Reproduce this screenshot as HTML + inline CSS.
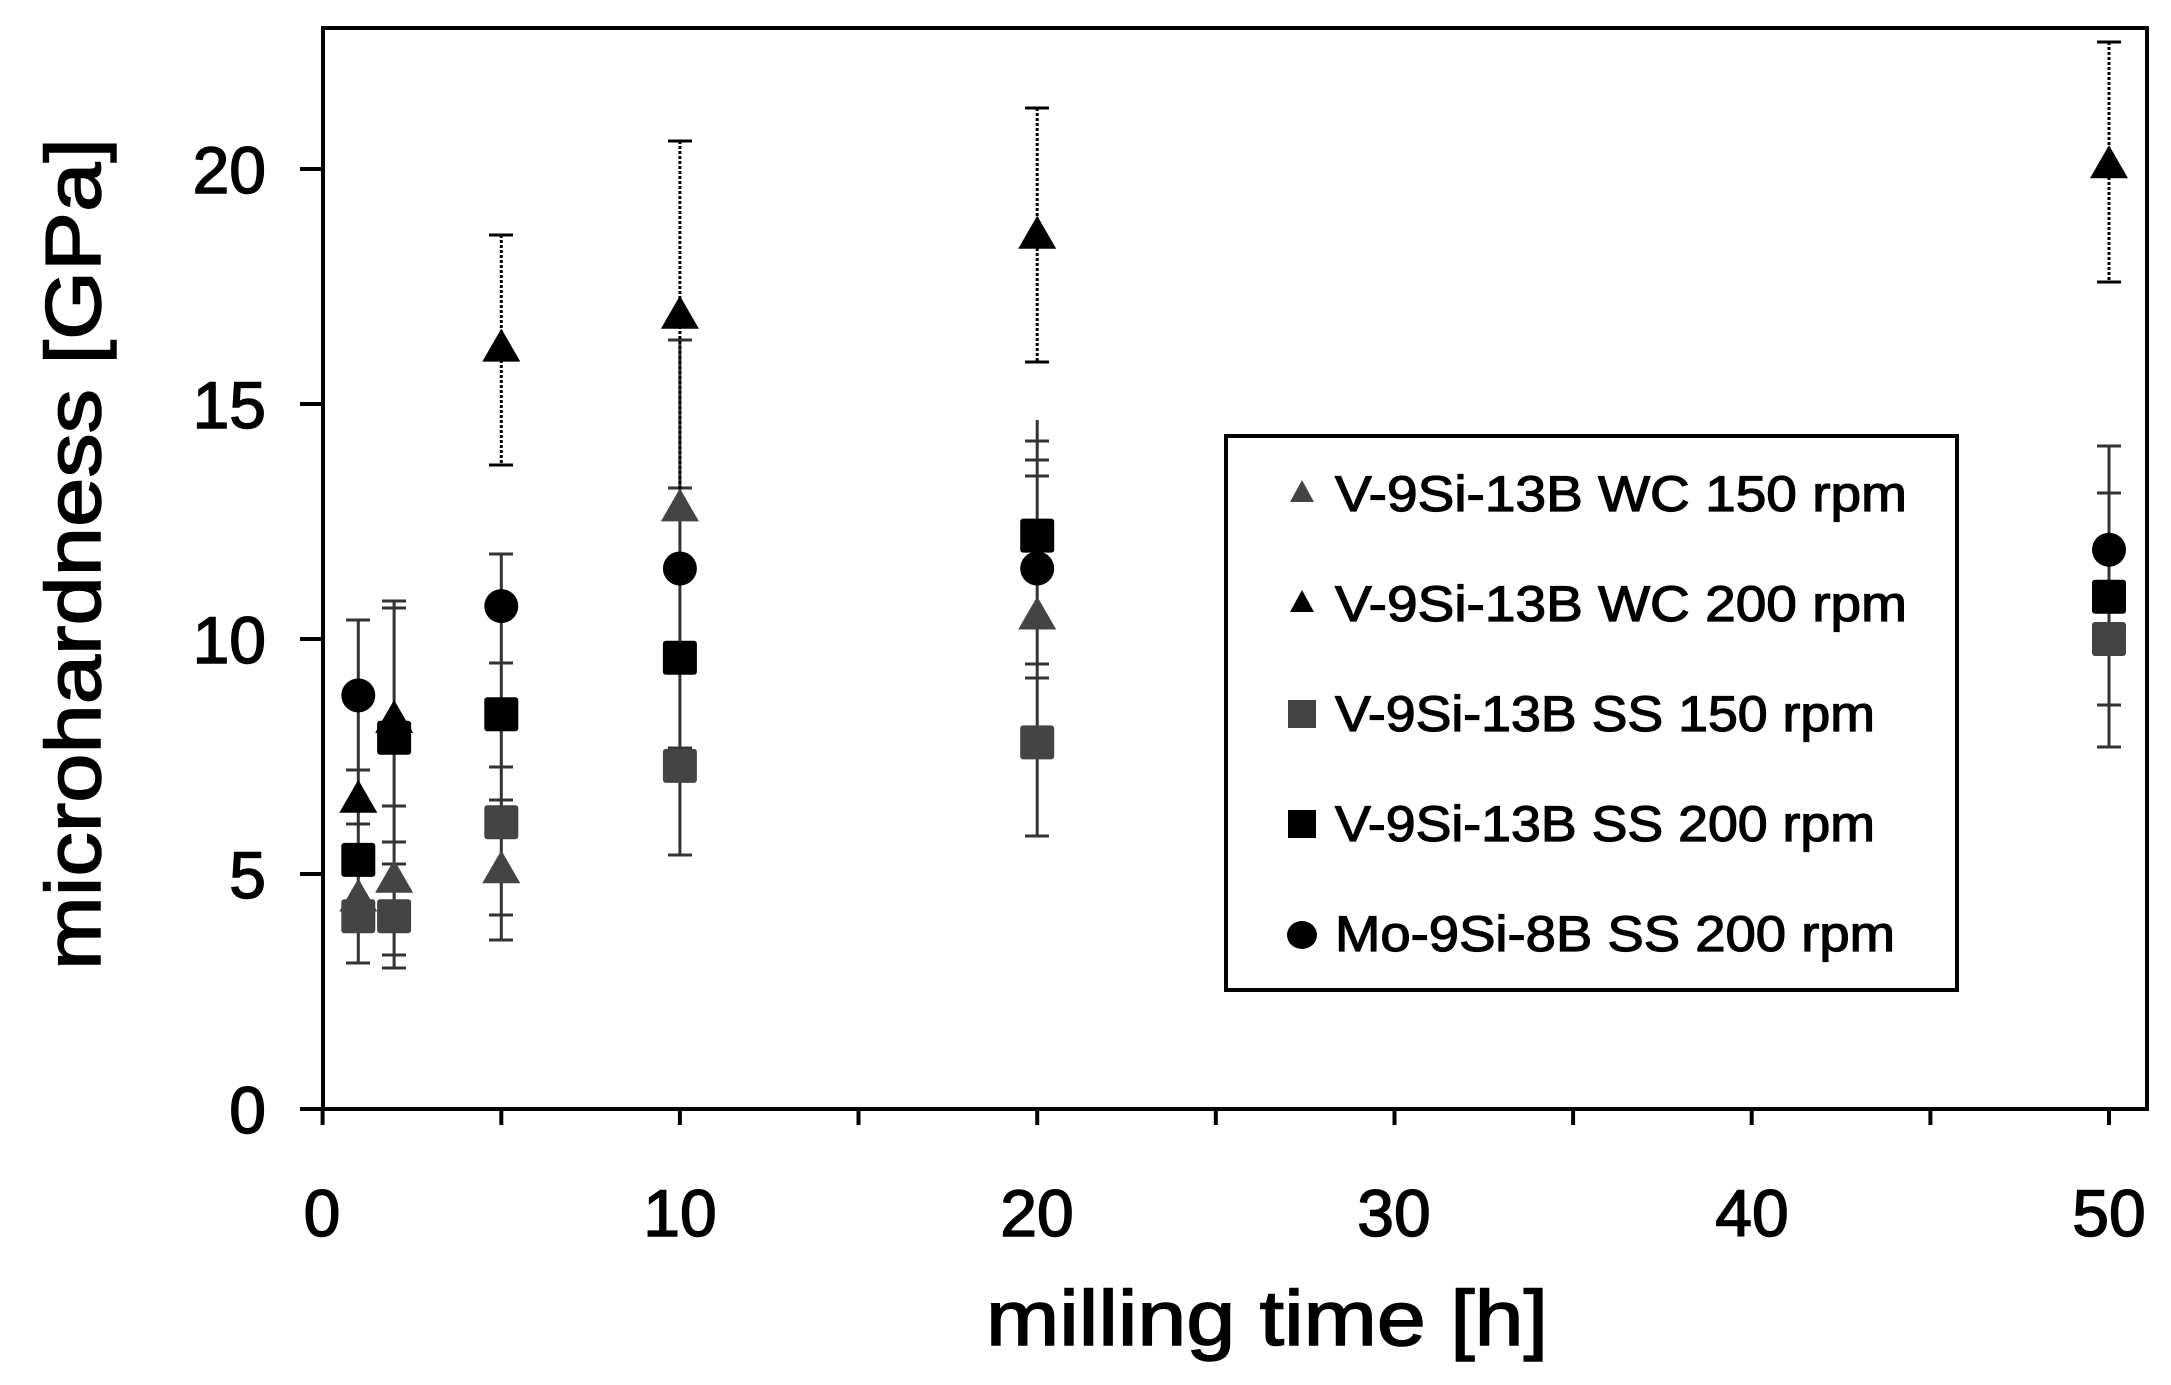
<!DOCTYPE html>
<html><head><meta charset="utf-8"><style>html,body{margin:0;padding:0;background:#fff}svg{display:block}</style></head>
<body>
<svg width="2171" height="1385" viewBox="0 0 2171 1385" xmlns="http://www.w3.org/2000/svg" font-family="Liberation Sans, DejaVu Sans, sans-serif">
<defs>
<path id="tri" d="M0,-19 L19,14 L-19,14 Z"/>
<rect id="sq" x="-17" y="-17" width="34" height="34" rx="3"/>
<circle id="ci" r="17"/>
</defs>
<rect x="323" y="28" width="1824" height="1081" fill="none" stroke="#000" stroke-width="4"/>
<g stroke="#000" stroke-width="4">
<line x1="300" y1="1109" x2="323" y2="1109"/><line x1="300" y1="874" x2="323" y2="874"/>
<line x1="300" y1="639" x2="323" y2="639"/><line x1="300" y1="404" x2="323" y2="404"/>
<line x1="300" y1="169" x2="323" y2="169"/>
<g>
<line x1="322.6" y1="1109" x2="322.6" y2="1125"/><line x1="501.3" y1="1109" x2="501.3" y2="1125"/>
<line x1="679.9" y1="1109" x2="679.9" y2="1125"/><line x1="858.5" y1="1109" x2="858.5" y2="1125"/>
<line x1="1037.2" y1="1109" x2="1037.2" y2="1125"/><line x1="1215.8" y1="1109" x2="1215.8" y2="1125"/>
<line x1="1394.5" y1="1109" x2="1394.5" y2="1125"/><line x1="1573.1" y1="1109" x2="1573.1" y2="1125"/>
<line x1="1751.7" y1="1109" x2="1751.7" y2="1125"/><line x1="1930.4" y1="1109" x2="1930.4" y2="1125"/>
<line x1="2109" y1="1109" x2="2109" y2="1125"/>
</g></g>
<g font-size="66" text-anchor="end" fill="#000" stroke="#000" stroke-width="1.5">
<text x="266" y="1133">0</text><text x="266" y="898">5</text><text x="266" y="663">10</text>
<text x="266" y="428">15</text><text x="266" y="193">20</text>
</g>
<g font-size="66" text-anchor="middle" fill="#000" stroke="#000" stroke-width="1.5">
<text x="322" y="1236">0</text><text x="680" y="1236">10</text><text x="1037" y="1236">20</text>
<text x="1394" y="1236">30</text><text x="1752" y="1236">40</text><text x="2109" y="1236">50</text>
</g>
<text x="1267" y="1345" font-size="78" text-anchor="middle" textLength="562" lengthAdjust="spacingAndGlyphs" stroke="#000" stroke-width="1.5">milling time [h]</text>
<text transform="translate(100,554) rotate(-90)" font-size="78" text-anchor="middle" textLength="832" lengthAdjust="spacingAndGlyphs" stroke="#000" stroke-width="1.5">microhardness [GPa]</text>

<g stroke="#333" stroke-width="3">
<line x1="358.3" y1="620" x2="358.3" y2="963"/>
<line x1="346" y1="620" x2="370" y2="620"/><line x1="346" y1="770" x2="370" y2="770"/><line x1="346" y1="824" x2="370" y2="824"/><line x1="346" y1="963" x2="370" y2="963"/>
<line x1="394.1" y1="601" x2="394.1" y2="968"/>
<line x1="382" y1="601" x2="406" y2="601"/><line x1="382" y1="608" x2="406" y2="608"/><line x1="382" y1="806" x2="406" y2="806"/><line x1="382" y1="842" x2="406" y2="842"/><line x1="382" y1="864" x2="406" y2="864"/><line x1="382" y1="955" x2="406" y2="955"/><line x1="382" y1="968" x2="406" y2="968"/>
<line x1="501.3" y1="554" x2="501.3" y2="940"/>
<line x1="489" y1="554" x2="513" y2="554"/><line x1="489" y1="663" x2="513" y2="663"/><line x1="489" y1="767" x2="513" y2="767"/><line x1="489" y1="800" x2="513" y2="800"/><line x1="489" y1="915" x2="513" y2="915"/><line x1="489" y1="940" x2="513" y2="940"/>
<line x1="679.9" y1="340" x2="679.9" y2="855"/>
<line x1="668" y1="488" x2="692" y2="488"/><line x1="668" y1="340" x2="692" y2="340"/><line x1="668" y1="748" x2="692" y2="748"/><line x1="668" y1="855" x2="692" y2="855"/>
<line x1="1037.2" y1="420" x2="1037.2" y2="836"/>
<line x1="1025" y1="441" x2="1049" y2="441"/><line x1="1025" y1="460" x2="1049" y2="460"/><line x1="1025" y1="476" x2="1049" y2="476"/><line x1="1025" y1="664" x2="1049" y2="664"/><line x1="1025" y1="678" x2="1049" y2="678"/><line x1="1025" y1="836" x2="1049" y2="836"/>
<line x1="2109" y1="446" x2="2109" y2="747"/>
<line x1="2097" y1="446" x2="2121" y2="446"/><line x1="2097" y1="493" x2="2121" y2="493"/><line x1="2097" y1="705" x2="2121" y2="705"/><line x1="2097" y1="747" x2="2121" y2="747"/>
</g>
<g stroke="#000" stroke-width="3" stroke-dasharray="3,2">
<line x1="501.3" y1="235" x2="501.3" y2="465"/><line x1="679.9" y1="141" x2="679.9" y2="489"/>
<line x1="1037.2" y1="108" x2="1037.2" y2="362"/><line x1="2109" y1="42" x2="2109" y2="282"/>
</g>
<g stroke="#000" stroke-width="3">
<line x1="489" y1="235" x2="513" y2="235"/><line x1="489" y1="465" x2="513" y2="465"/>
<line x1="668" y1="141" x2="692" y2="141"/><line x1="1025" y1="108" x2="1049" y2="108"/><line x1="1025" y1="362" x2="1049" y2="362"/>
<line x1="2097" y1="42" x2="2121" y2="42"/><line x1="2097" y1="282" x2="2121" y2="282"/>
</g>

<g fill="#444">
<use href="#tri" x="358.3" y="897.5"/><use href="#tri" x="394.1" y="878.7"/><use href="#tri" x="501.3" y="869.3"/>
<use href="#tri" x="679.9" y="507.4"/><use href="#tri" x="1037.2" y="615.5"/>
<use href="#sq" x="358.3" y="916.3"/><use href="#sq" x="394.1" y="916.3"/><use href="#sq" x="501.3" y="822.3"/>
<use href="#sq" x="679.9" y="765.9"/><use href="#sq" x="1037.2" y="742.4"/><use href="#sq" x="2109" y="639"/>
</g>
<g fill="#000">
<use href="#tri" x="358.3" y="798.8"/><use href="#tri" x="394.1" y="718.9"/><use href="#tri" x="501.3" y="347.6"/>
<use href="#tri" x="679.9" y="314.7"/><use href="#tri" x="1037.2" y="234.8"/><use href="#tri" x="2109" y="164.3"/>
<use href="#sq" x="358.3" y="859.9"/><use href="#sq" x="394.1" y="737.7"/><use href="#sq" x="501.3" y="714.2"/>
<use href="#sq" x="679.9" y="657.8"/><use href="#sq" x="1037.2" y="535.6"/><use href="#sq" x="2109" y="596.7"/>
<use href="#ci" x="358.3" y="695.4"/><use href="#ci" x="501.3" y="606.1"/><use href="#ci" x="679.9" y="568.5"/>
<use href="#ci" x="1037.2" y="568.5"/><use href="#ci" x="2109" y="549.7"/>
</g>

<rect x="1226" y="436" width="731" height="554" fill="#fff" stroke="#000" stroke-width="4"/>
<g font-size="50" fill="#000" stroke="#000" stroke-width="1.2">
<text x="1335" y="511" textLength="572" lengthAdjust="spacingAndGlyphs">V-9Si-13B WC 150 rpm</text>
<text x="1335" y="621" textLength="572" lengthAdjust="spacingAndGlyphs">V-9Si-13B WC 200 rpm</text>
<text x="1335" y="731" textLength="540" lengthAdjust="spacingAndGlyphs">V-9Si-13B SS 150 rpm</text>
<text x="1335" y="841" textLength="540" lengthAdjust="spacingAndGlyphs">V-9Si-13B SS 200 rpm</text>
<text x="1335" y="951" textLength="560" lengthAdjust="spacingAndGlyphs">Mo-9Si-8B SS 200 rpm</text>
</g>
<path d="M1302,480 L1314,502 L1290,502 Z" fill="#444"/>
<path d="M1302,590 L1314,612 L1290,612 Z" fill="#000"/>
<rect x="1288" y="700" width="28" height="28" fill="#444"/>
<rect x="1288" y="810" width="28" height="28" fill="#000"/>
<ellipse cx="1302" cy="935" rx="15" ry="14" fill="#000"/>
</svg>
</body></html>
